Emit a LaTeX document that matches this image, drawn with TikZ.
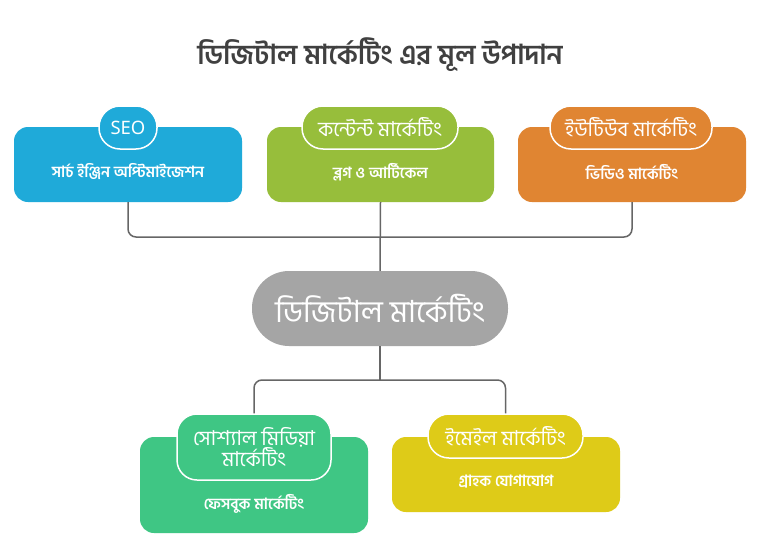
\documentclass[tikz,border=0pt]{standalone}
\usepackage{fontspec}
\newfontfamily\bn[Script=Bengali]{Hind Siliguri}
\newfontfamily\lat{Noto Sans}
\definecolor{cblue}{HTML}{1FAAD9}
\definecolor{cgreen}{HTML}{97BE3B}
\definecolor{corange}{HTML}{E08532}
\definecolor{cgray}{HTML}{A5A5A5}
\definecolor{cmint}{HTML}{3FC684}
\definecolor{cyellow}{HTML}{DECB18}
\definecolor{cline}{HTML}{666666}
\definecolor{ctitle}{HTML}{404040}
\begin{document}
\begin{tikzpicture}[x=1pt,y=-1pt,
  box/.style={rectangle,rounded corners=14pt,draw=none,inner sep=0pt},
  pill/.style={rectangle,rounded corners=21pt,draw=white,line width=1.5pt,inner sep=0pt,text=white,font=\bn\fontsize{20.5}{24}\selectfont},
  desc/.style={inner sep=0pt,text=white,font=\bn\fontsize{15.5}{18}\selectfont\bfseries},
  conn/.style={draw=cline,line width=1.5pt,rounded corners=8pt}]
\useasboundingbox[fill=white] (0,0) rectangle (768,546);
\node[text=ctitle,font=\bn\fontsize{27.5}{32}\selectfont\bfseries] (title) at (380,55) {ডিজিটাল মার্কেটিং এর মূল উপাদান};
% top boxes
\node[box,fill=cblue,minimum width=228pt,minimum height=75pt] (seobox) at (128,164.5) {};
\node[pill,fill=cblue,minimum width=58pt,minimum height=43pt,font=\lat\fontsize{18.5}{22}\selectfont\bfseries] (seopill) at (128,127.5) {SEO};
\node[desc] (seotxt) at (128,172) {সার্চ ইঞ্জিন অপ্টিমাইজেশন};
\node[box,fill=cgreen,minimum width=227pt,minimum height=75pt] (cmbox) at (380.5,164.5) {};
\node[pill,fill=cgreen,minimum width=156pt,minimum height=43pt] (cmpill) at (380,127.5) {কন্টেন্ট মার্কেটিং};
\node[desc] (cmtxt) at (380.5,172) {ব্লগ ও আর্টিকেল};
\node[box,fill=corange,minimum width=228pt,minimum height=75pt] (ytbox) at (632,164.5) {};
\node[pill,fill=corange,minimum width=162pt,minimum height=43pt] (ytpill) at (631,127.5) {ইউটিউব মার্কেটিং};
\node[desc] (yttxt) at (632,172) {ভিডিও মার্কেটিং};
% centre
\node[box,fill=cgray,rounded corners=37pt,minimum width=256pt,minimum height=75pt,text=white,font=\bn\fontsize{30.5}{36}\selectfont] (dm) at (380,308.5) {ডিজিটাল মার্কেটিং};
% bottom boxes
\node[box,fill=cmint,minimum width=228pt,minimum height=96pt] (smbox) at (254,485) {};
\node[pill,fill=cmint,rounded corners=20pt,minimum width=154pt,minimum height=66pt,align=center,font=\bn\fontsize{20.5}{21}\selectfont] (smpill) at (254,447) {সোশ্যাল মিডিয়া\\মার্কেটিং};
\node[desc] (smtxt) at (254,504) {ফেসবুক মার্কেটিং};
\node[box,fill=cyellow,minimum width=228pt,minimum height=75pt] (embox) at (506,474.5) {};
\node[pill,fill=cyellow,minimum width=155pt,minimum height=44pt] (empill) at (505.5,436) {ইমেইল মার্কেটিং};
\node[desc] (emtxt) at (506,482) {গ্রাহক যোগাযোগ};
% connectors
\coordinate (jtop) at (380,237);
\coordinate (jbot) at (380,380);
\draw[conn] (seobox.south) |- (jtop) -| (ytbox.south);
\draw[conn] (cmbox.south) -- (dm.north);
\draw[conn] (dm.south) -- (jbot);
\draw[conn] (smpill.north) |- (jbot) -| (empill.north);
\end{tikzpicture}
\end{document}
